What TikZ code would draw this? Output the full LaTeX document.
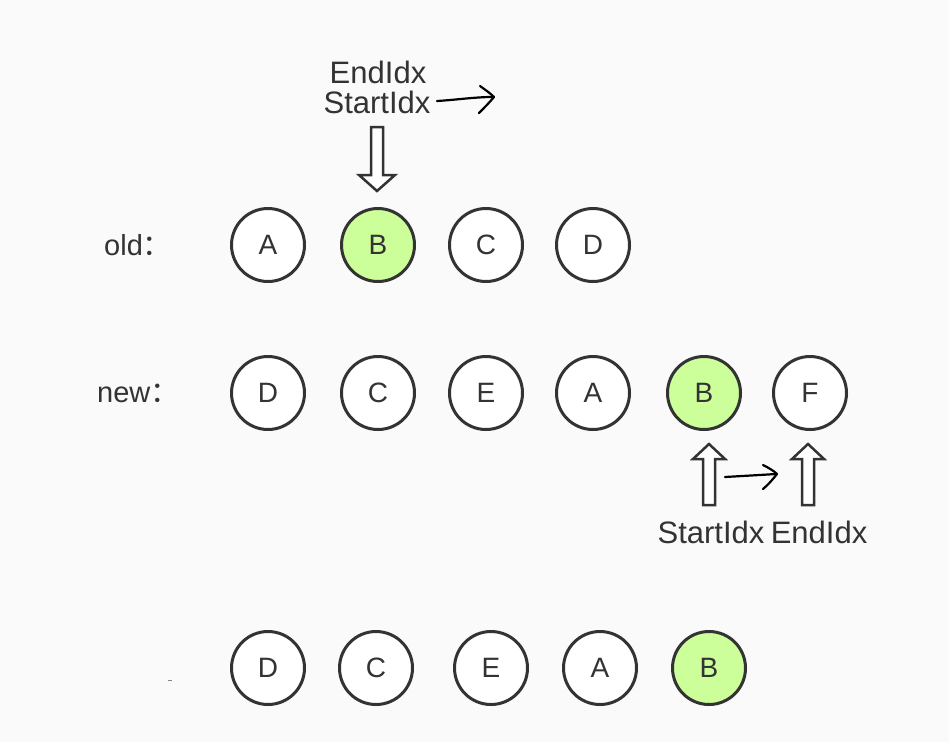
\documentclass[tikz,border=0pt]{standalone}
\usepackage{fontspec}
\setmainfont{Liberation Sans}
\newfontfamily\cjkfont{Noto Sans CJK SC}
\begin{document}
\definecolor{bgcol}{HTML}{FAFAFA}
\definecolor{inkcol}{HTML}{333333}
\definecolor{hitcol}{HTML}{CCFF99}
\begin{tikzpicture}[x=1pt,y=-1pt,
  item/.style={circle,draw=inkcol,line width=3pt,fill=white,minimum size=73pt,inner sep=0pt,
    text=inkcol,font=\fontsize{28}{32}\selectfont},
  hit/.style={item,fill=hitcol},
  rowlabel/.style={text=inkcol,font=\fontsize{29}{32}\selectfont,inner sep=0pt},
  idxlabel/.style={text=inkcol,font=\fontsize{31}{34}\selectfont,inner sep=0pt},
  hollow/.style={draw=inkcol,line width=2.5pt,fill=white,line join=miter},
  sketch/.style={draw=black,line width=2.2pt,line cap=round,line join=round}]
\fill[bgcol] (0,0) rectangle (949,742);
\useasboundingbox (0,0) rectangle (949,742);

% old sequence
\node[rowlabel,anchor=west] (oldlbl) at (104,245) {old\cjkfont ：};
\node[item] (oA) at (268,245) {A};
\node[hit]  (oB) at (378,245) {B};
\node[item] (oC) at (486,245) {C};
\node[item] (oD) at (593,245) {D};

% new sequence
\node[rowlabel,anchor=west] (newlbl) at (97,393) {new\cjkfont ：};
\node[item] (nD) at (268,393) {D};
\node[item] (nC) at (378,393) {C};
\node[item] (nE) at (486,393) {E};
\node[item] (nA) at (593,393) {A};
\node[hit]  (nB) at (704,393) {B};
\node[item] (nF) at (810,393) {F};

% result sequence
\node[item] (rD) at (268,668) {D};
\node[item] (rC) at (376,668) {C};
\node[item] (rE) at (491,668) {E};
\node[item] (rA) at (600,668) {A};
\node[hit]  (rB) at (709,668) {B};
\draw[inkcol!60,line width=1pt] (168,680) -- (172,680);

% pointers over the old sequence
\node[idxlabel] (oEnd) at (378,72) {EndIdx};
\node[idxlabel] (oStart) at (377,102) {StartIdx};
\draw[hollow] (371,127) -- (383,127) -- (383,175) -- (395,175) -- (377,191)
  -- (359,175) -- (371,175) -- cycle;
\draw[sketch] (437,101) .. controls (455,100) and (475,97) .. (492,97);
\draw[sketch] (480,86) .. controls (487,91) and (491,94) .. (494,97)
  .. controls (489,103) and (484,108) .. (479,113);

% pointers under the new sequence
\draw[hollow] (703,505) -- (703,459) -- (693,459) -- (709,444) -- (725,459)
  -- (715,459) -- (715,505) -- cycle;
\draw[hollow] (802,505) -- (802,459) -- (792,459) -- (808,444) -- (824,459)
  -- (814,459) -- (814,505) -- cycle;
\draw[sketch] (725,477) .. controls (742,476) and (760,475) .. (776,474);
\draw[sketch] (763,465) .. controls (769,468) and (774,471) .. (777,474)
  .. controls (773,479) and (768,485) .. (763,489);
\node[idxlabel] (nStart) at (711,532) {StartIdx};
\node[idxlabel] (nEnd) at (819,532) {EndIdx};
\end{tikzpicture}
\end{document}
